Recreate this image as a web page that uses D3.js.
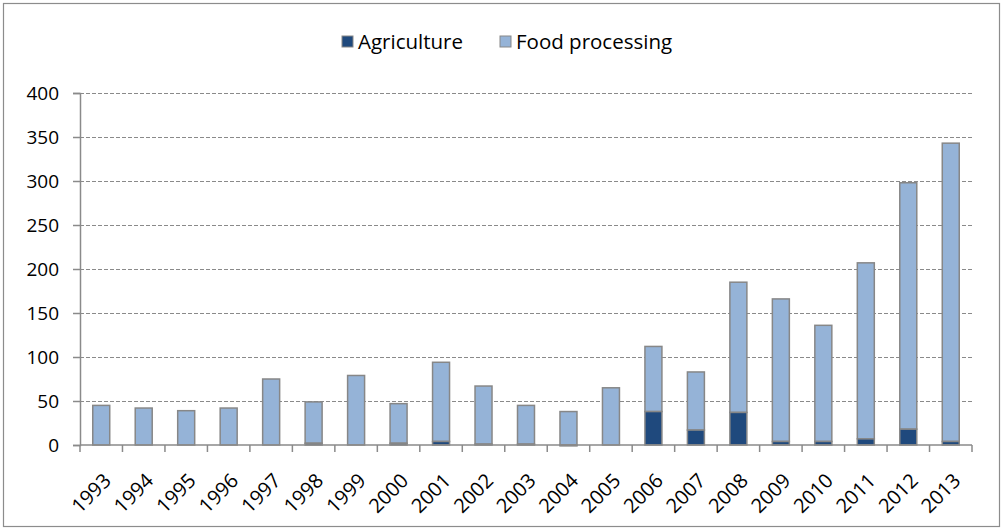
<!DOCTYPE html>
<html><head><meta charset="utf-8">
<script src="https://cdn.jsdelivr.net/npm/d3@7"></script>
<style>
html,body{margin:0;padding:0;background:#fff;}
svg{display:block;}
text{font-family:"Open Sans","Noto Sans",sans-serif;fill:#000;}
</style></head>
<body>
<svg id="chart" width="1003" height="531"></svg>
<script>
const years = ["1993","1994","1995","1996","1997","1998","1999","2000","2001","2002","2003","2004","2005","2006","2007","2008","2009","2010","2011","2012","2013"];
const agriculture = [0,0,0,0,0,2,0,2,4,1,1,-1,0,38,17,37,4,4,7,18,4];
const foodProcessing = [45,42,39,42,75,47,79,45,90,66,44,38,65,74,66,148,162,132,200,280,339];
const yTicks = [0,50,100,150,200,250,300,350,400];
const seriesNames = ["Agriculture","Food processing"];
const colors = ["#1f497d","#95b3d7"];

const svg = d3.select("#chart");
const m = {left:80, right:972, top:93, bottom:445};

svg.append("rect").attr("x",3.5).attr("y",3.5).attr("width",996).attr("height",523)
  .attr("fill","#fff").attr("stroke","#8c8c8c").attr("stroke-width",1.2);

const x = d3.scaleBand().domain(years).range([m.left,m.right]).paddingInner(0.6).paddingOuter(0.3);
const y = d3.scaleLinear().domain([0,400]).range([m.bottom,m.top]);

// gridlines
svg.append("g").selectAll("line").data(yTicks.filter(d=>d>0)).join("line")
  .attr("x1",m.left).attr("x2",m.right)
  .attr("y1",d=>Math.round(y(d))+0.5).attr("y2",d=>Math.round(y(d))+0.5)
  .attr("stroke","#8a8a8a").attr("stroke-width",1.2).attr("stroke-dasharray","4,2");

// bars
const rows = years.map((yr,i)=>({year:yr, agri:agriculture[i], food:foodProcessing[i]}));
const g = svg.append("g");
rows.forEach(r=>{
  const a0 = Math.min(0,r.agri), a1 = Math.max(0,r.agri);
  const f0 = a1, f1 = a1 + r.food;
  g.append("rect").attr("x",x(r.year)).attr("width",x.bandwidth())
    .attr("y",y(f1)).attr("height",y(f0)-y(f1))
    .attr("fill",colors[1]).attr("stroke","#878787").attr("stroke-width",1.5);
  if (r.agri !== 0) {
    g.append("rect").attr("x",x(r.year)).attr("width",x.bandwidth())
      .attr("y",y(a1)).attr("height",Math.max(0.5,y(a0)-y(a1)))
      .attr("fill",colors[0]).attr("stroke","#878787").attr("stroke-width",1.5);
  }
});

// y axis
const yAxis = d3.axisLeft(y).tickValues(yTicks).tickSize(7).tickPadding(14);
const ya = svg.append("g").attr("transform",`translate(${m.left},0)`).call(yAxis);
ya.select(".domain").attr("stroke","#8a8a8a").attr("stroke-width",1.5);
ya.selectAll(".tick line").attr("stroke","#8a8a8a").attr("stroke-width",1.5);
ya.selectAll(".tick text").attr("font-size",19).attr("font-family","Open Sans, Noto Sans, sans-serif").attr("fill","#000").attr("dy","0.34em");

// x axis
const xa = svg.append("g");
xa.append("line").attr("x1",m.left).attr("x2",m.right).attr("y1",m.bottom).attr("y2",m.bottom)
  .attr("stroke","#8a8a8a").attr("stroke-width",1.5);
const step = x.step();
xa.selectAll("line.tk").data(years.concat(["end"])).join("line").attr("class","tk")
  .attr("x1",(d,i)=> i<years.length ? x(d)+x.bandwidth()/2-step/2 : m.right)
  .attr("x2",(d,i)=> i<years.length ? x(d)+x.bandwidth()/2-step/2 : m.right)
  .attr("y1",m.bottom).attr("y2",m.bottom+7).attr("stroke","#8a8a8a").attr("stroke-width",1.5);
xa.selectAll("text").data(years).join("text")
  .attr("transform",d=>`translate(${x(d)+x.bandwidth()/2+11},482) rotate(-45)`)
  .attr("text-anchor","end").attr("font-size",20).text(d=>d);

// legend
const leg = svg.append("g");
const legItems = [{name:seriesNames[0],c:colors[0],x:342},{name:seriesNames[1],c:colors[1],x:500}];
legItems.forEach(it=>{
  leg.append("rect").attr("x",it.x).attr("y",36).attr("width",11).attr("height",11)
    .attr("fill",it.c).attr("stroke","#878787").attr("stroke-width",1);
  leg.append("text").attr("x",it.x+16).attr("y",49).attr("font-size",20.5).text(it.name);
});
</script>
</body></html>
